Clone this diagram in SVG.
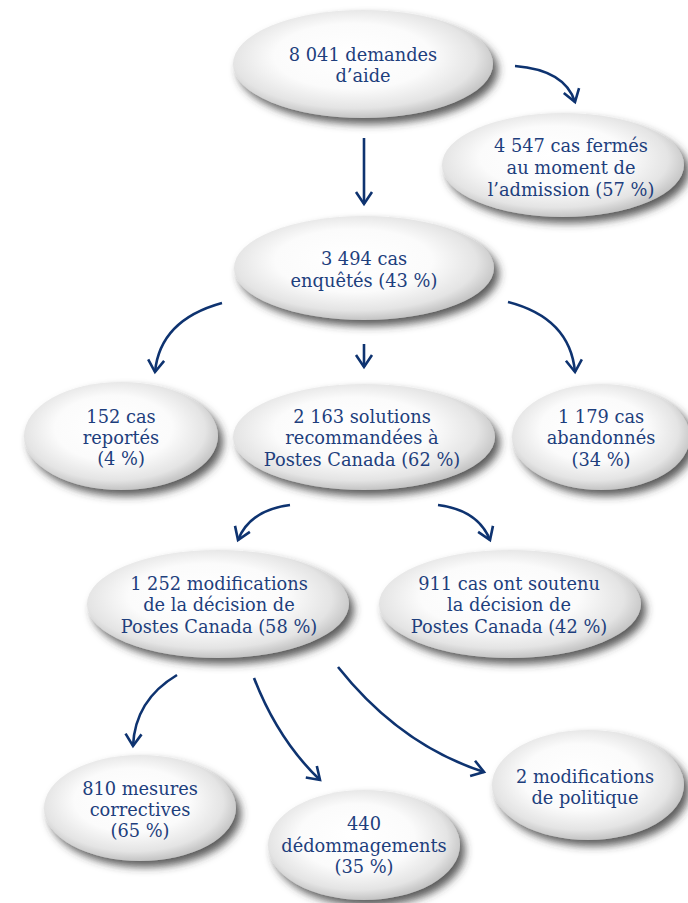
<svg xmlns="http://www.w3.org/2000/svg" width="688" height="903" viewBox="0 0 688 903">
<defs>
<radialGradient id="g" cx="0.47" cy="0.45" r="0.55" fx="0.45" fy="0.4">
<stop offset="0" stop-color="#ffffff"/>
<stop offset="0.55" stop-color="#fbfbfb"/>
<stop offset="0.85" stop-color="#e4e4e4"/>
<stop offset="1" stop-color="#c4c4c4"/>
</radialGradient>
<filter id="sh" x="-20%" y="-30%" width="150%" height="170%">
<feGaussianBlur in="SourceAlpha" stdDeviation="4"/>
<feOffset dx="5" dy="6" result="b"/>
<feFlood flood-color="#333333" flood-opacity="0.8"/>
<feComposite in2="b" operator="in"/>
<feMerge><feMergeNode/><feMergeNode in="SourceGraphic"/></feMerge>
</filter>
<marker id="ah" viewBox="-15 -10 18 20" refX="0" refY="0" markerWidth="18" markerHeight="20" markerUnits="userSpaceOnUse" orient="auto">
<path d="M-12,-8 L0,0 L-12,8" fill="none" stroke="#0e3370" stroke-width="2.6"/>
</marker>
</defs>
<style>
.n ellipse{fill:url(#g);filter:url(#sh)}
.n text{font-family:"DejaVu Serif","Liberation Serif",serif;font-size:17.8px;fill:#1e3f7d;text-anchor:middle}
.c path{fill:none;stroke:#0e3370;stroke-width:2.6;marker-end:url(#ah)}
</style>
<rect width="688" height="903" fill="#ffffff"/>
<g id="n1" class="n"><ellipse cx="363" cy="64" rx="130" ry="54"/>
<text x="363" y="61">8 041 demandes</text><text x="363" y="82">d’aide</text></g>
<g id="n2" class="n"><ellipse cx="563" cy="165" rx="121" ry="52"/>
<text x="571" y="152">4 547 cas fermés</text><text x="571" y="174">au moment de</text><text x="571" y="196">l’admission (57 %)</text></g>
<g id="n3" class="n"><ellipse cx="364" cy="268" rx="130" ry="52"/>
<text x="364" y="265">3 494 cas</text><text x="364" y="287">enquêtés (43 %)</text></g>
<g id="n4" class="n"><ellipse cx="121" cy="436" rx="97" ry="54"/>
<text x="121" y="423">152 cas</text><text x="121" y="444">reportés</text><text x="121" y="465">(4 %)</text></g>
<g id="n5" class="n"><ellipse cx="364" cy="437" rx="131" ry="53"/>
<text x="362" y="423">2 163 solutions</text><text x="362" y="444">recommandées à</text><text x="362" y="466">Postes Canada (62 %)</text></g>
<g id="n6" class="n"><ellipse cx="601" cy="437" rx="89" ry="53"/>
<text x="601" y="423">1 179 cas</text><text x="601" y="444">abandonnés</text><text x="601" y="466">(34 %)</text></g>
<g id="n7" class="n"><ellipse cx="218" cy="604" rx="131" ry="54"/>
<text x="219" y="590">1 252 modifications</text><text x="219" y="611">de la décision de</text><text x="219" y="633">Postes Canada (58 %)</text></g>
<g id="n8" class="n"><ellipse cx="510" cy="604" rx="131" ry="54"/>
<text x="509" y="590">911 cas ont soutenu</text><text x="509" y="611">la décision de</text><text x="509" y="633">Postes Canada (42 %)</text></g>
<g id="n9" class="n"><ellipse cx="140" cy="808" rx="96" ry="53"/>
<text x="140" y="795">810 mesures</text><text x="140" y="816">correctives</text><text x="140" y="837">(65 %)</text></g>
<g id="n10" class="n"><ellipse cx="364" cy="845" rx="96" ry="55"/>
<text x="364" y="830">440</text><text x="364" y="852">dédommagements</text><text x="364" y="873">(35 %)</text></g>
<g id="n11" class="n"><ellipse cx="588" cy="785" rx="96" ry="55"/>
<text x="585" y="783">2 modifications</text><text x="585" y="804">de politique</text></g>
<g id="connectors" class="c">
<path d="M515,66 Q565,70 575,102"/>
<path d="M364,138 L364,204"/>
<path d="M222,303 Q160,320 155,372"/>
<path d="M364,344 L364,367"/>
<path d="M508,302 Q570,318 575,372"/>
<path d="M290,505 Q250,510 238,540"/>
<path d="M438,505 Q478,510 490,540"/>
<path d="M177,675 Q135,700 133,746"/>
<path d="M254,678 Q278,740 320,780"/>
<path d="M338,667 Q400,745 484,772"/>
</g>
</svg>
